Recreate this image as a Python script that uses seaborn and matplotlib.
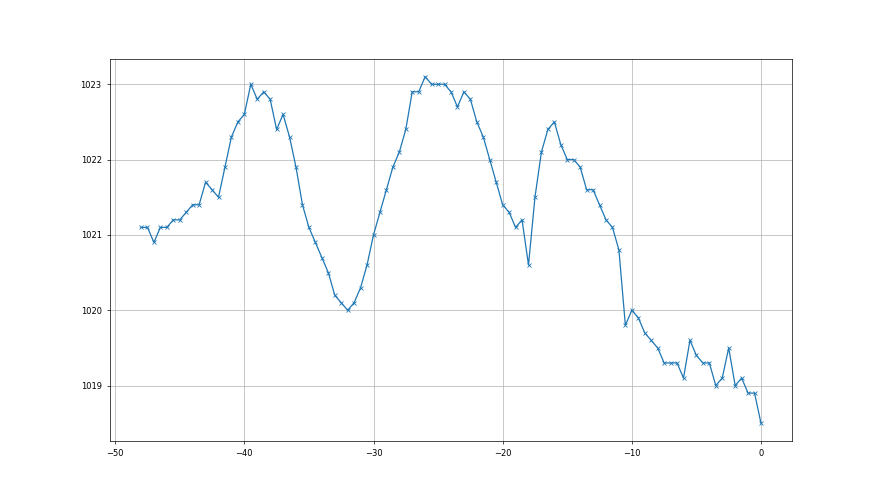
import numpy as np
import pandas as pd
import matplotlib
matplotlib.use('Agg')
import matplotlib.pyplot as plt
import seaborn as sns

# hours relative to now
hours = [-48.0, -47.5, -47.0, -46.5, -46.0, -45.5, -45.0, -44.5, -44.0, -43.5,
         -43.0, -42.5, -42.0, -41.5, -41.0, -40.5, -40.0, -39.5, -39.0, -38.5,
         -38.0, -37.5, -37.0, -36.5, -36.0, -35.5, -35.0, -34.5, -34.0, -33.5,
         -33.0, -32.5, -32.0, -31.5, -31.0, -30.5, -30.0, -29.5, -29.0, -28.5,
         -28.0, -27.5, -27.0, -26.5, -26.0, -25.5, -25.0, -24.5, -24.0, -23.5,
         -23.0, -22.5, -22.0, -21.5, -21.0, -20.5, -20.0, -19.5, -19.0, -18.5,
         -18.0, -17.5, -17.0, -16.5, -16.0, -15.5, -15.0, -14.5, -14.0, -13.5,
         -13.0, -12.5, -12.0, -11.5, -11.0, -10.5, -10.0, -9.5, -9.0, -8.5,
         -8.0, -7.5, -7.0, -6.5, -6.0, -5.5, -5.0, -4.5, -4.0, -3.5,
         -3.0, -2.5, -2.0, -1.5, -1.0, -0.5, 0.0]

# pressure readings (hPa)
pressure = [1021.1, 1021.1, 1020.9, 1021.1, 1021.1, 1021.2, 1021.2, 1021.3, 1021.4, 1021.4,
            1021.7, 1021.6, 1021.5, 1021.9, 1022.3, 1022.5, 1022.6, 1023.0, 1022.8, 1022.9,
            1022.8, 1022.4, 1022.6, 1022.3, 1021.9, 1021.4, 1021.1, 1020.9, 1020.7, 1020.5,
            1020.2, 1020.1, 1020.0, 1020.1, 1020.3, 1020.6, 1021.0, 1021.3, 1021.6, 1021.9,
            1022.1, 1022.4, 1022.9, 1022.9, 1023.1, 1023.0, 1023.0, 1023.0, 1022.9, 1022.7,
            1022.9, 1022.8, 1022.5, 1022.3, 1022.0, 1021.7, 1021.4, 1021.3, 1021.1, 1021.2,
            1020.6, 1021.5, 1022.1, 1022.4, 1022.5, 1022.2, 1022.0, 1022.0, 1021.9, 1021.6,
            1021.6, 1021.4, 1021.2, 1021.1, 1020.8, 1019.8, 1020.0, 1019.9, 1019.7, 1019.6,
            1019.5, 1019.3, 1019.3, 1019.3, 1019.1, 1019.6, 1019.4, 1019.3, 1019.3, 1019.0,
            1019.1, 1019.5, 1019.0, 1019.1, 1018.9, 1018.9, 1018.5]

df = pd.DataFrame({'hours': hours, 'pressure': pressure})

fig, ax = plt.subplots(figsize=(8.8, 4.95), dpi=100)

sns.lineplot(x='hours', y='pressure', data=df, ax=ax, marker='x',
             markersize=3.5, linewidth=0.9, color='#1f77b4',
             markeredgecolor='#1f77b4', markeredgewidth=0.6)

ax.grid(True, color='#b0b0b0', linewidth=0.5)
ax.set_xlabel('')
ax.set_ylabel('')
ax.tick_params(labelsize=6, length=2.5, width=0.5)
for s in ax.spines.values():
    s.set_linewidth(0.5)
ax.ticklabel_format(axis='y', useOffset=False, style='plain')

plt.savefig('out.png', dpi=100)
